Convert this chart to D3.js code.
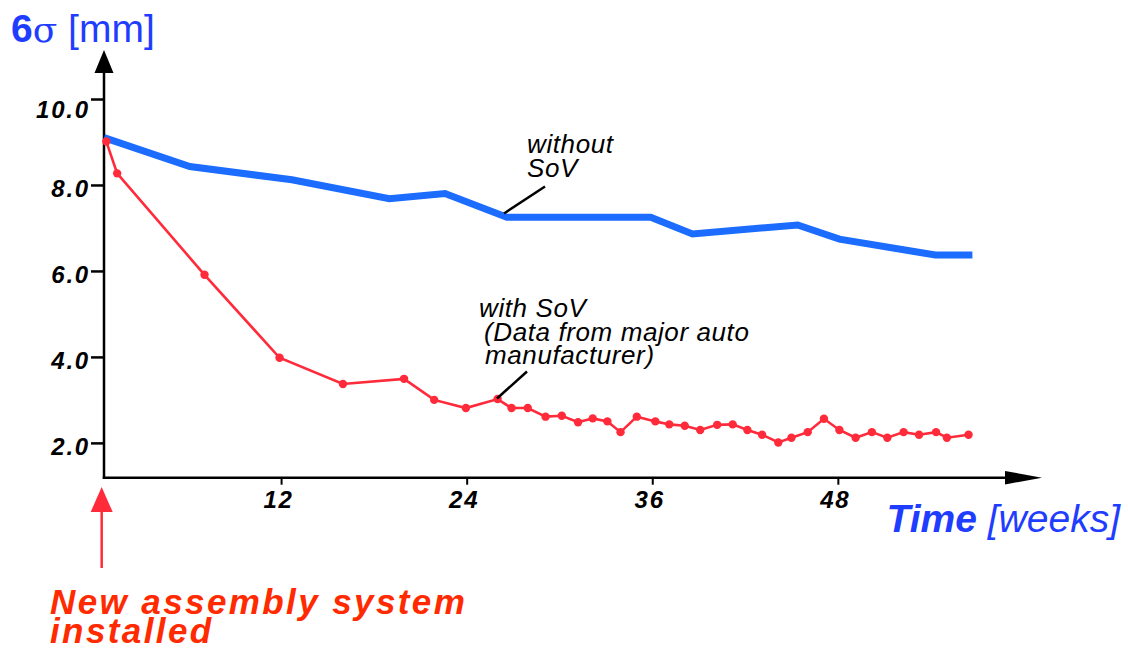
<!DOCTYPE html>
<html>
<head>
<meta charset="utf-8">
<script src="https://cdn.jsdelivr.net/npm/d3@7"></script>
<style>
  body { margin: 0; background: #fff; }
  text { font-family: "Liberation Sans", Arial, Helvetica, sans-serif; }
</style>
</head>
<body>
<div id="chart"></div>
<script>
// data (weeks, 6 sigma in mm)
const weeksWithout = [0.55, 6.1, 12.7, 19.0, 22.6, 26.6, 35.9, 38.6, 45.4, 48.1, 54.3, 56.7]
const sigmaWithout = [9.10, 8.43, 8.12, 7.68, 7.80, 7.25, 7.25, 6.86, 7.07, 6.74, 6.37, 6.37]

const weeksWith = [0.7, 1.4, 7.05, 11.9, 16.0, 19.95, 21.9, 23.95, 26.0, 26.9,
    27.95, 29.1, 30.15, 31.2, 32.15, 33.1, 33.95, 35.0, 36.2, 37.1,
    38.1, 39.1, 40.2, 41.2, 42.15, 43.1, 44.15, 45.0, 46.05, 47.1,
    48.1, 49.15, 50.2, 51.2, 52.25, 53.25, 54.35, 55.05, 56.45]
const sigmaWith = [9.01, 8.27, 5.91, 3.98, 3.37, 3.49, 3.00, 2.81, 3.02, 2.81,
    2.81, 2.61, 2.63, 2.48, 2.57, 2.50, 2.25, 2.61, 2.50, 2.43,
    2.40, 2.30, 2.42, 2.43, 2.30, 2.19, 2.01, 2.12, 2.25, 2.56,
    2.30, 2.12, 2.25, 2.12, 2.25, 2.19, 2.25, 2.12, 2.19]

const xTicks = [12, 24, 36, 48]
const yTicks = [2, 4, 6, 8, 10]
const installWeek = 0.4

const blue = "#1c6cff"
const labelBlue = "#1f3dff"
const red = "#ff2a3a"
const orange = "#ff2a00"
const FONT = "'Liberation Sans', Arial, Helvetica, sans-serif"

const W = 1128, H = 650

const svg = d3.select("#chart")
    .append("svg")
    .attr("width", W)
    .attr("height", H)

// scales
const x = d3.scaleLinear()
    .domain([0.55, 61.2])
    .range([104, 1042])

const y = d3.scaleLinear()
    .domain([1.19, 11.14])
    .range([477.7, 50])

const x0 = x.range()[0], x1 = x.range()[1]
const yBase = y.range()[0], yTop = y.range()[1]

function tickStyle(sel){
    sel.attr("font-family", FONT)
        .attr("font-size", 24)
        .attr("font-weight", "bold")
        .attr("font-style", "italic")
        .attr("letter-spacing", 1.8)
        .attr("fill", "#000")
}

// axes
const yAxis = svg.append("g")
    .attr("transform", `translate(${x0},0)`)
    .call(d3.axisLeft(y).tickValues(yTicks).tickFormat(d3.format(".1f"))
        .tickSize(13).tickPadding(1).tickSizeOuter(0))
yAxis.select(".domain").remove()
yAxis.selectAll("line").attr("stroke", "#000").attr("stroke-width", 2.5)
yAxis.selectAll("text")
    .attr("dy", d => d === 10 ? "0.78em" : "0.48em")
    .call(tickStyle)

const xAxis = svg.append("g")
    .attr("transform", `translate(0,${yBase})`)
    .call(d3.axisBottom(x).tickValues(xTicks).tickFormat(d3.format("d"))
        .tickSize(7).tickPadding(6).tickSizeOuter(0))
xAxis.select(".domain").remove()
xAxis.selectAll("line").attr("stroke", "#000").attr("stroke-width", 2)
xAxis.selectAll("text")
    .attr("dx", "-3")
    .call(tickStyle)

// axis lines with arrow heads
svg.append("line")
    .attr("x1", x0).attr("y1", yBase + 1)
    .attr("x2", x0).attr("y2", yTop + 10)
    .attr("stroke", "#000").attr("stroke-width", 2.5)
svg.append("path")
    .attr("d", `M${x0},${yTop} L${x0 - 9.5},${yTop + 23} L${x0 + 9.5},${yTop + 23} Z`)
    .attr("fill", "#000")

svg.append("line")
    .attr("x1", x0 - 1.25).attr("y1", yBase)
    .attr("x2", x1 - 10).attr("y2", yBase)
    .attr("stroke", "#000").attr("stroke-width", 2.5)
svg.append("path")
    .attr("d", `M${x1},${yBase} L${x1 - 37},${yBase - 6.7} L${x1 - 37},${yBase + 6.7} Z`)
    .attr("fill", "#000")

// axis titles
const title = svg.append("text")
    .attr("x", 11).attr("y", 42)
    .attr("fill", labelBlue)
    .style("font-size", "39px")
title.append("tspan").text("6").style("font-weight", "bold")
title.append("tspan").text("σ").style("font-family", "'DejaVu Serif', 'Liberation Serif', serif")
    .style("font-size", "36px")
title.append("tspan").text(" [mm]")

const xTitle = svg.append("text")
    .attr("x", 1120).attr("y", 532)
    .attr("text-anchor", "end")
    .attr("fill", labelBlue)
    .style("font-size", "39px")
    .style("font-style", "italic")
xTitle.append("tspan").text("Time").style("font-weight", "bold")
xTitle.append("tspan").text(" [weeks]")

// lines
const without = weeksWithout.map((w, i) => ({week: w, value: sigmaWithout[i]}))
const withSov = weeksWith.map((w, i) => ({week: w, value: sigmaWith[i]}))

const line = d3.line()
    .x(d => x(d.week))
    .y(d => y(d.value))

svg.append("path")
    .datum(without)
    .attr("d", line)
    .attr("fill", "none")
    .attr("stroke", blue)
    .attr("stroke-width", 7)
    .attr("stroke-linejoin", "miter")

svg.append("path")
    .datum(withSov)
    .attr("d", line)
    .attr("fill", "none")
    .attr("stroke", red)
    .attr("stroke-width", 2.6)

svg.selectAll(".dot")
    .data(withSov)
    .join("circle")
    .attr("class", "dot")
    .attr("cx", d => x(d.week))
    .attr("cy", d => y(d.value))
    .attr("r", 4.2)
    .attr("fill", red)

// annotations
function note(lines, xs, y0, step){
    const t = svg.append("text")
        .attr("fill", "#000")
        .style("font-size", "26px")
        .style("font-style", "italic")
        .style("letter-spacing", "0.6px")
    lines.forEach((s, i) => {
        t.append("tspan").attr("x", xs[i]).attr("y", y0 + i * step).text(s)
    })
}

note(["without", "SoV"], [527, 527], 153, 24)
svg.append("line")
    .attr("x1", 545).attr("y1", 186.5)
    .attr("x2", 504).attr("y2", 213.5)
    .attr("stroke", "#000").attr("stroke-width", 2.5)

note(["with SoV", "(Data from major auto", "manufacturer)"], [479, 484, 485], 317, 23.5)
svg.append("line")
    .attr("x1", 527).attr("y1", 371.5)
    .attr("x2", 497).attr("y2", 398.5)
    .attr("stroke", "#000").attr("stroke-width", 2.5)

// installation marker
const xi = x(installWeek)
svg.append("line")
    .attr("x1", xi).attr("y1", 568)
    .attr("x2", xi).attr("y2", 505)
    .attr("stroke", red).attr("stroke-width", 2.5)
svg.append("path")
    .attr("d", `M${xi},487 L${xi - 11},512 L${xi + 11},512 Z`)
    .attr("fill", red)

const inst = svg.append("text")
    .attr("fill", orange)
    .style("font-size", "35px")
    .style("font-weight", "bold")
    .style("font-style", "italic")
    .style("letter-spacing", "2.4px")
inst.append("tspan").attr("x", 50).attr("y", 614).text("New assembly system")
inst.append("tspan").attr("x", 50).attr("y", 643).text("installed")
</script>
</body>
</html>
